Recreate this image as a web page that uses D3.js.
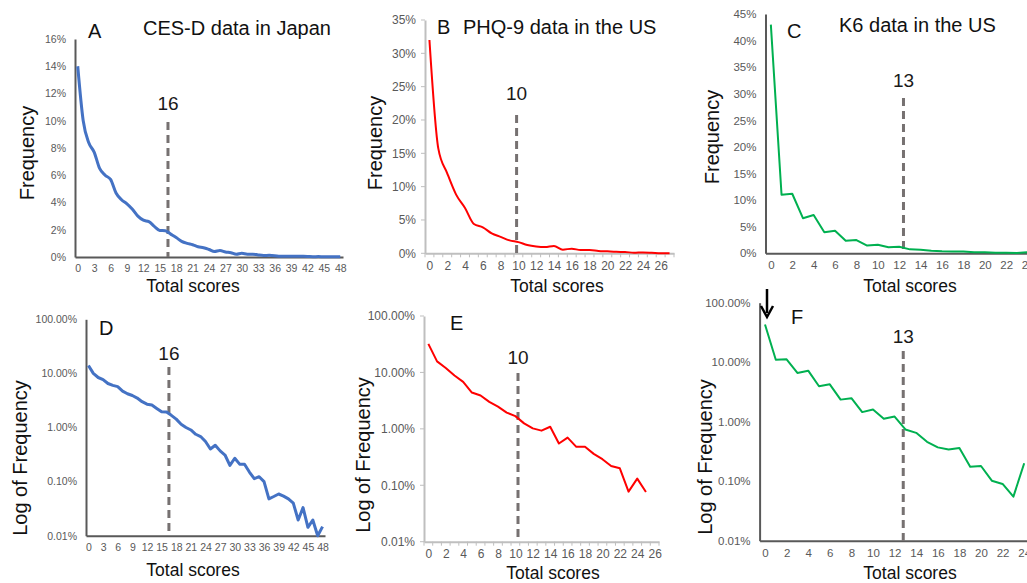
<!DOCTYPE html>
<html>
<head>
<meta charset="utf-8">
<script src="https://cdn.jsdelivr.net/npm/d3@7"></script>
<style>
  body { margin: 0; background: #fff; }
  svg { display: block; font-family: "Liberation Sans", Arial, sans-serif; }
</style>
</head>
<body>
<div id="chart"></div>
<script>
// frequency (%) by total score
var cesdJapan = [14.0, 10.0, 8.4, 7.7, 6.5, 6.0, 5.7, 4.7, 4.2, 3.9,
                 3.5, 3.0, 2.7, 2.6, 2.25, 1.95, 1.93, 1.68, 1.43, 1.15,
                 1.0, 0.9, 0.75, 0.68, 0.55, 0.40, 0.47, 0.37, 0.31, 0.20,
                 0.27, 0.21, 0.21, 0.15, 0.113, 0.123, 0.10, 0.048, 0.053, 0.059,
                 0.054, 0.048, 0.040, 0.0195, 0.033, 0.0143, 0.0195, 0.0100, 0.0147]
var phq9US = [32.0, 15.7, 12.0, 8.8, 6.8, 4.4, 3.9, 3.0, 2.47, 1.94,
              1.68, 1.25, 1.02, 0.93, 1.09, 0.55, 0.70, 0.48, 0.48, 0.36,
              0.29, 0.22, 0.20, 0.077, 0.131, 0.076, 0, 0]
var k6US = [43.0, 11.0, 11.2, 6.6, 7.2, 3.95, 4.25, 2.35, 2.48, 1.45,
            1.6, 1.12, 1.22, 0.74, 0.65, 0.46, 0.37, 0.34, 0.36, 0.175,
            0.18, 0.102, 0.09, 0.055, 0.2]

var titles = ['CES-D data in Japan', 'PHQ-9 data in the US', 'K6 data in the US']
var letters = ['A', 'B', 'C', 'D', 'E', 'F']
var cutoffLabels = ['16', '10', '13']
var logTicks = [0.01, 0.1, 1, 10, 100]

var blue = '#4472c4', red = '#ff0000', green = '#00b050'
var dark = '#595959', light = '#bfbfbf'

var width = 1027, height = 583

var svg = d3.select('#chart').append('svg')
    .attr('width', width)
    .attr('height', height)

// one entry per panel: layout + which series to use
var panels = [
  {data: cesdJapan, log: false, xd: [-0.5, 48.5], xr: [75, 343], yd: [0, 16], yr: [257, 39], ystep: 2, xstep: 3,
   color: blue, lw: 3, axis: dark, fs: 10.5, cut: 16.5, cutLabel: cutoffLabels[0], dashTop: 122, cutY: 110,
   letter: [88, 38], title: titles[0], titleXY: [143, 35], yTitle: 'Frequency', yTitleXY: [27, 153], xTitleXY: [193, 292], curve: d3.curveMonotoneX},
  {data: phq9US, log: false, xd: [-0.5, 27.5], xr: [425, 674], yd: [0, 35], yr: [253.3, 20], ystep: 5, xstep: 2,
   color: red, lw: 2, axis: light, ticks: true, fs: 12, cut: 9.8, cutLabel: cutoffLabels[1], dashTop: 115, cutY: 100,
   letter: [437, 34], title: titles[1], titleXY: [463, 34], yTitle: 'Frequency', yTitleXY: [375, 143], xTitleXY: [557, 292], curve: d3.curveMonotoneX},
  {data: k6US, log: false, xd: [-0.5, 27.5], xr: [765.5, 1065], yd: [0, 45], yr: [253.3, 14], ystep: 5, xstep: 2,
   color: green, lw: 2, axis: dark, fs: 11.5, cut: 12.4, cutLabel: cutoffLabels[2], dashTop: 98, cutY: 87,
   letter: [787, 38], title: titles[2], titleXY: [839, 32], yTitle: 'Frequency', yTitleXY: [712, 137], xTitleXY: [910, 292], curve: d3.curveLinear},
  {data: cesdJapan, log: true, xd: [-0.5, 48.5], xr: [86, 325], yr: [535.7, 319.3], xstep: 3,
   color: blue, lw: 3, axis: dark, fs: 10.5, cut: 16.5, cutLabel: cutoffLabels[0], dashTop: 367, cutY: 360,
   letter: [99, 335], yTitle: 'Log of Frequency', yTitleXY: [20, 458], xTitleXY: [193, 576], curve: d3.curveLinear},
  {data: phq9US, log: true, xd: [-0.5, 26.5], xr: [424, 659], yr: [541.7, 316], xstep: 2,
   color: red, lw: 2, axis: light, ticks: true, fs: 12, cut: 10.3, cutLabel: cutoffLabels[1], dashTop: 373, cutY: 364,
   letter: [450, 330], yTitle: 'Log of Frequency', yTitleXY: [363, 455], xTitleXY: [553, 579], curve: d3.curveLinear},
  {data: k6US, log: true, xd: [-0.5, 27.5], xr: [759.6, 1062], yr: [540.7, 302.7], xstep: 2,
   color: green, lw: 2, axis: dark, fs: 11.5, cut: 12.8, cutLabel: cutoffLabels[2], dashTop: 351, cutY: 343,
   letter: [791, 324], yTitle: 'Log of Frequency', yTitleXY: [705, 457], xTitleXY: [910, 579], curve: d3.curveLinear, arrow: true}
]

panels.forEach(function(p, i) {
    var g = svg.append('g')
    var x = d3.scaleLinear().domain(p.xd).range(p.xr)
    var y = p.log ? d3.scaleLog().domain([0.01, 100]).range(p.yr)
                  : d3.scaleLinear().domain(p.yd).range(p.yr)

    var xMax = Math.floor(p.xd[1])
    var xAxis = d3.axisBottom(x)
        .tickValues(d3.range(0, xMax + 1, p.xstep))
        .tickSize(0).tickPadding(8)
        .tickFormat(d3.format('d'))
    var yAxis = d3.axisLeft(y).tickSize(0).tickPadding(9)
    if (p.log) {
        yAxis.tickValues(logTicks).tickFormat(d => d.toFixed(2) + '%')
    } else {
        yAxis.tickValues(d3.range(p.yd[0], p.yd[1] + 0.1, p.ystep)).tickFormat(d => d + '%')
    }

    var gx = g.append('g').attr('transform', `translate(0,${p.yr[0]})`).call(xAxis)
    var gy = g.append('g').attr('transform', `translate(${p.xr[0]},0)`).call(yAxis)
    ;[gx, gy].forEach(function(a) {
        a.select('.domain').attr('stroke', p.axis).attr('stroke-width', 2)
        a.selectAll('text').attr('fill', dark).style('font-size', p.fs + 'px').style('font-family', 'inherit')
    })

    // light axes carry little tick marks between categories
    if (p.ticks) {
        g.append('g').selectAll('line')
            .data(d3.range(-0.5, p.xd[1] + 0.01, 1))
            .join('line')
            .attr('x1', d => x(d)).attr('x2', d => x(d))
            .attr('y1', p.yr[0]).attr('y2', p.yr[0] + 4)
            .attr('stroke', light).attr('stroke-width', 1)
        g.append('g').selectAll('line')
            .data(yAxis.tickValues())
            .join('line')
            .attr('x1', p.xr[0] - 4).attr('x2', p.xr[0])
            .attr('y1', d => y(d)).attr('y2', d => y(d))
            .attr('stroke', light).attr('stroke-width', 1)
    }

    // cutoff line
    g.append('line')
        .attr('x1', x(p.cut)).attr('x2', x(p.cut))
        .attr('y1', p.dashTop).attr('y2', p.yr[0])
        .attr('stroke', '#767171').attr('stroke-width', 3)
        .attr('stroke-dasharray', '8,5')
    g.append('text')
        .attr('x', x(p.cut)).attr('y', p.cutY)
        .attr('text-anchor', 'middle')
        .style('font-size', '19px').attr('fill', '#1a1a1a')
        .text(p.cutLabel)

    var pts = p.data.map((v, k) => [k, v]).filter(d => !p.log || d[1] > 0)
    var line = d3.line().x(d => x(d[0])).y(d => y(d[1])).curve(p.curve)
    g.append('path')
        .datum(pts)
        .attr('d', line)
        .attr('fill', 'none')
        .attr('stroke', p.color)
        .attr('stroke-width', p.lw)
        .attr('stroke-linejoin', 'round')

    // labels
    g.append('text')
        .attr('x', p.letter[0]).attr('y', p.letter[1])
        .style('font-size', '20px').attr('fill', '#111')
        .text(letters[i])
    if (p.title) {
        g.append('text')
            .attr('x', p.titleXY[0]).attr('y', p.titleXY[1])
            .style('font-size', '20px').attr('fill', '#111')
            .text(p.title)
    }
    g.append('text')
        .attr('transform', `translate(${p.yTitleXY[0]},${p.yTitleXY[1]}) rotate(-90)`)
        .attr('text-anchor', 'middle').attr('dy', '0.35em')
        .style('font-size', '20px').attr('fill', '#111')
        .text(p.yTitle)
    g.append('text')
        .attr('x', p.xTitleXY[0]).attr('y', p.xTitleXY[1])
        .attr('text-anchor', 'middle')
        .style('font-size', '17.5px').attr('fill', '#111')
        .text('Total scores')

    if (p.arrow) {
        var ax = x(0) + 2
        g.append('line')
            .attr('x1', ax).attr('x2', ax).attr('y1', 289).attr('y2', 313)
            .attr('stroke', '#000').attr('stroke-width', 2.5)
        g.append('path')
            .attr('d', `M${ax - 6},${306} L${ax},${317} L${ax + 6},${306}`)
            .attr('fill', 'none').attr('stroke', '#000').attr('stroke-width', 2.5)
    }
})
</script>
</body>
</html>
